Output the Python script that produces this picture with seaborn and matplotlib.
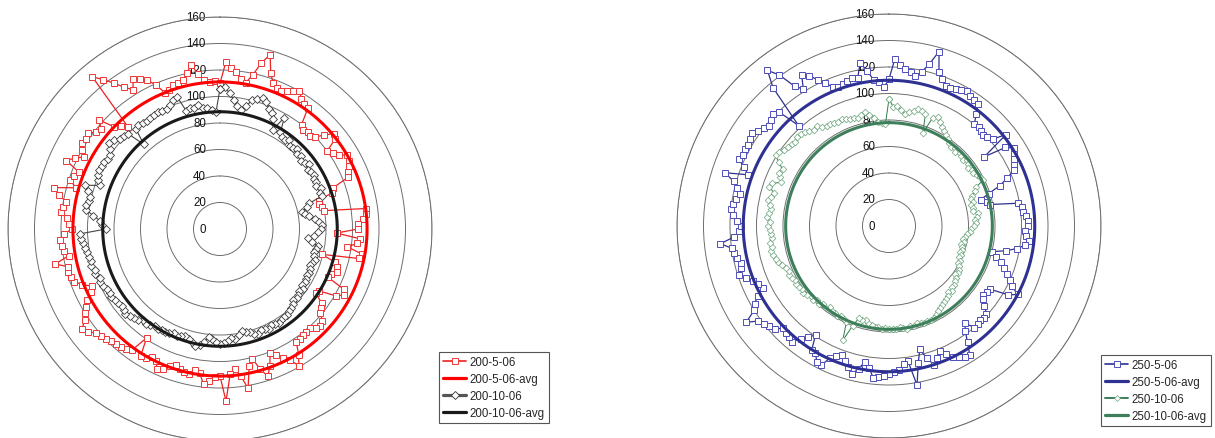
import numpy as np
import pandas as pd
import matplotlib
matplotlib.use("Agg")
import matplotlib.pyplot as plt
import matplotlib.transforms as mtransforms
from matplotlib.lines import Line2D
import seaborn as sns

# ---------------- data (180 categories, 2 degrees apart, clockwise from top) ----------------
n_categories = 180

red_200_5 = [110, 126, 122, 119, 114, 112, 119, 129, 137, 124, 117, 115, 114, 116, 118,
             120, 116, 114, 113, 100, 98, 99, 98, 100, 106, 112, 110, 100, 103, 106,
             111, 110, 108, 106, 104, 91, 89, 78, 77, 79, 80, 111, 111, 108, 104,
             104, 88, 106, 104, 97, 109, 107, 79, 90, 93, 94, 90, 89, 104, 106,
             101, 88, 87, 95, 97, 99, 104, 105, 104, 101, 101, 102, 103, 103, 112,
             119, 112, 108, 104, 101, 110, 117, 110, 101, 106, 122, 112, 106, 110, 130,
             111, 112, 115, 118, 110, 108, 112, 111, 110, 108, 110, 114, 116, 111, 109,
             112, 113, 99, 113, 115, 116, 117, 118, 120, 121, 122, 126, 129, 123, 120,
             117, 114, 108, 106, 112, 117, 118, 119, 118, 127, 116, 119, 120, 121, 118,
             112, 114, 116, 121, 120, 118, 124, 129, 113, 119, 117, 115, 127, 122, 116,
             120, 123, 122, 123, 119, 117, 123, 111, 108, 104, 150, 143, 136, 129, 124,
             131, 128, 125, 119, 111, 112, 114, 115, 116, 120, 126, 118, 113, 111, 112]
red_200_5_avg = 111

black_200_10 = [106, 107, 103, 98, 94, 91, 95, 100, 102, 104, 102, 98, 96, 92, 85,
                97, 86, 84, 83, 85, 82, 82, 84, 81, 82, 80, 81, 83, 80, 81,
                82, 80, 81, 79, 82, 80, 81, 70, 68, 63, 65, 68, 72, 75, 77,
                76, 74, 71, 67, 70, 75, 74, 73, 74, 75, 74, 73, 74, 75, 74,
                75, 76, 75, 77, 76, 77, 78, 77, 79, 80, 81, 82, 82, 83, 84,
                83, 82, 84, 83, 82, 84, 83, 81, 80, 79, 81, 84, 83, 85, 86,
                87, 85, 83, 82, 86, 89, 90, 88, 86, 85, 86, 87, 86, 87, 88,
                88, 89, 88, 90, 91, 90, 92, 93, 94, 96, 95, 94, 95, 96, 97,
                96, 97, 98, 99, 98, 100, 99, 101, 100, 101, 102, 103, 104, 105, 106,
                86, 89, 91, 96, 102, 103, 101, 101, 104, 107, 96, 99, 101, 102, 101,
                101, 100, 100, 103, 106, 104, 102, 101, 100, 86, 99, 100, 99, 98, 99,
                99, 100, 99, 99, 101, 104, 105, 93, 94, 93, 95, 92, 92, 90, 88]
black_200_10_avg = 88.5

blue_250_5 = [111, 126, 122, 119, 117, 115, 119, 126, 137, 122, 118, 114, 114, 115, 116,
              118, 116, 115, 114, 107, 100, 101, 100, 99, 100, 102, 112, 89, 106, 111,
              109, 107, 105, 103, 96, 89, 79, 72, 76, 78, 99, 101, 102, 104, 105,
              105, 103, 104, 106, 104, 98, 90, 80, 84, 89, 92, 96, 100, 103, 110,
              104, 90, 89, 88, 90, 94, 99, 100, 99, 100, 100, 93, 98, 106, 115,
              114, 112, 110, 106, 102, 106, 110, 104, 96, 106, 122, 103, 105, 109, 110,
              112, 113, 114, 115, 108, 104, 110, 115, 111, 107, 104, 106, 109, 117, 116,
              111, 110, 99, 104, 108, 114, 113, 112, 111, 116, 118, 120, 122, 130, 120,
              117, 112, 106, 108, 111, 115, 119, 116, 115, 117, 119, 120, 128, 117, 113,
              112, 115, 118, 120, 119, 117, 115, 118, 122, 130, 113, 118, 124, 123, 123,
              123, 124, 125, 122, 120, 118, 120, 122, 120, 102, 136, 149, 141, 127, 122,
              132, 128, 123, 118, 113, 112, 113, 114, 115, 114, 125, 118, 111, 109, 105]
blue_250_5_avg = 110

green_250_10 = [96, 90, 91, 88, 85, 87, 89, 91, 90, 89, 75, 88, 90, 87, 85,
                83, 81, 79, 77, 76, 77, 75, 77, 76, 75, 77, 76, 74, 76, 75,
                77, 78, 79, 72, 70, 67, 65, 66, 64, 65, 64, 68, 67, 65, 66,
                64, 62, 61, 59, 58, 57, 58, 56, 57, 58, 57, 59, 58, 60, 59,
                61, 62, 63, 62, 64, 65, 66, 66, 68, 67, 69, 70, 71, 72, 73,
                74, 76, 77, 78, 77, 78, 77, 76, 78, 77, 79, 78, 77, 78, 78,
                78, 77, 78, 77, 77, 76, 75, 73, 74, 73, 80, 93, 79, 78, 77,
                78, 77, 77, 76, 78, 77, 79, 78, 80, 79, 81, 82, 81, 82, 83,
                82, 83, 84, 83, 84, 86, 88, 89, 90, 91, 90, 91, 89, 89, 90,
                91, 90, 92, 91, 90, 91, 93, 92, 90, 95, 94, 88, 90, 92, 91,
                96, 101, 100, 98, 97, 96, 95, 97, 96, 95, 94, 92, 93, 90, 89,
                89, 88, 87, 88, 87, 86, 86, 85, 86, 88, 85, 82, 79, 78, 77]
green_250_10_avg = 78

radial_ticks = [0, 20, 40, 60, 80, 100, 120, 140, 160]
left_labels = ["200-5-06", "200-5-06-avg", "200-10-06", "200-10-06-avg"]
right_labels = ["250-5-06", "250-5-06-avg", "250-10-06", "250-10-06-avg"]

# ---------------- style ----------------
sns.set_style("white")
plt.rcParams['font.family'] = ['Liberation Sans', 'DejaVu Sans']

W, H = 1215, 439
fig = plt.figure(figsize=(W / 100, H / 100), dpi=100)

theta = np.deg2rad(np.arange(n_categories) * 360.0 / n_categories)


def closed_frame(values):
    r = np.asarray(values, dtype=float)
    th = np.append(theta, theta[0] + 2 * np.pi)
    rr = np.append(r, r[0])
    return pd.DataFrame({"theta": th, "r": rr})


def series(ax, values, color, lw, marker=None, ms=0, mec=None, mew=0.8, z=2):
    df = closed_frame(values)
    kws = dict(color=color, lw=lw, zorder=z)
    if marker is not None:
        kws.update(marker=marker, markersize=ms, markeredgecolor=mec,
                   markerfacecolor="white", markeredgewidth=mew)
    sns.lineplot(data=df, x="theta", y="r", ax=ax, sort=False,
                 estimator=None, legend=False, **kws)


def setup_polar(ax):
    ax.set_theta_zero_location("N")
    ax.set_theta_direction(-1)
    ax.set_ylim(0, 160)
    ax.set_yticks(radial_ticks[1:])
    ax.set_yticklabels([])
    ax.set_xticks([])
    ax.yaxis.grid(True, color="#6e6e6e", lw=0.7)
    ax.xaxis.grid(False)
    ax.spines["polar"].set_color("#6e6e6e")
    ax.spines["polar"].set_linewidth(0.7)
    ax.set_xlabel("")
    ax.set_ylabel("")
    ax.set_facecolor("none")
    off = mtransforms.offset_copy(ax.transData, fig=fig, x=-14, y=0, units="dots")
    for r in radial_ticks:
        ax.text(0, r, str(r), transform=off, ha="right", va="center",
                fontsize=8.3, color="#111111", zorder=1)


def place_axes(cx, cy, rad):
    return fig.add_axes([(cx - rad) / W, (H - cy - rad) / H, 2 * rad / W, 2 * rad / H],
                        projection="polar")


# left chart
axL = place_axes(220, 230, 212)
series(axL, red_200_5, "#ee2020", 0.9, marker="s", ms=4.9, mec="#ee3a3a", mew=0.7, z=3)
series(axL, [red_200_5_avg] * n_categories, "#ff0000", 2.2, z=4)
series(axL, black_200_10, "#444444", 0.8, marker="D", ms=4.0, mec="#3a3a3a", mew=0.6, z=5)
series(axL, [black_200_10_avg] * n_categories, "#1a1a1a", 2.2, z=6)
setup_polar(axL)

# right chart
axR = place_axes(889, 227, 212)
series(axR, blue_250_5, "#2e3192", 0.9, marker="s", ms=4.9, mec="#5050bb", mew=0.7, z=3)
series(axR, [blue_250_5_avg] * n_categories, "#2e3192", 2.2, z=4)
series(axR, green_250_10, "#2f7a4c", 0.7, marker="D", ms=3.4, mec="#6aa67c", mew=0.5, z=5)
series(axR, [green_250_10_avg] * n_categories, "#3d7f5b", 2.2, z=6)
setup_polar(axR)


# legends
def make_legend(handles, labels, x_anchor, y_bottom, loc):
    leg = fig.legend(handles, labels, loc=loc,
                     bbox_to_anchor=(x_anchor / W, (H - y_bottom) / H),
                     bbox_transform=fig.transFigure, frameon=True, fancybox=False,
                     edgecolor="#555555", framealpha=1, fontsize=8.3,
                     handlelength=2.0, handletextpad=0.3, labelspacing=0.42,
                     borderpad=0.35, borderaxespad=0)
    leg.get_frame().set_linewidth(0.8)
    return leg


hL = [Line2D([], [], color="#ee2020", lw=1.2, marker="s", ms=4.6, mfc="white", mec="#ee3a3a", mew=0.7),
      Line2D([], [], color="#ff0000", lw=2.3),
      Line2D([], [], color="#555555", lw=2.3, marker="D", ms=3.6, mfc="white", mec="#333333", mew=0.6),
      Line2D([], [], color="#1a1a1a", lw=2.3)]
hR = [Line2D([], [], color="#2e3192", lw=1.2, marker="s", ms=4.6, mfc="white", mec="#5050bb", mew=0.7),
      Line2D([], [], color="#2e3192", lw=2.3),
      Line2D([], [], color="#3d7f5b", lw=1.4, marker="D", ms=3.0, mfc="white", mec="#6aa67c", mew=0.5),
      Line2D([], [], color="#3d7f5b", lw=2.3)]

make_legend(hL, left_labels, 439, 424, "lower left")
make_legend(hR, right_labels, 1211, 427, "lower right")

fig.savefig("out.png", dpi=100)
